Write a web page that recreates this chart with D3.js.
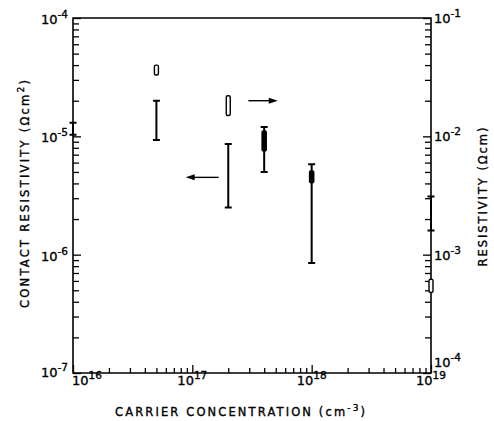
<!DOCTYPE html>
<html>
<head>
<meta charset="utf-8">
<script src="https://cdn.jsdelivr.net/npm/d3@7"></script>
<style>
  body { margin: 0; background: #fff; }
  svg { display: block; font-family: "DejaVu Sans", sans-serif; }
  text { fill: #000; stroke: #000; stroke-width: 0.35px; }
</style>
</head>
<body>
<svg id="chart"></svg>
<script>
// contact resistivity (left axis), error bars
const contactConc = [1e16, 5e16, 2e17, 4e17, 1e18, 1e19];
const contactLow = [1.03e-5, 9.3e-6, 2.5e-6, 5.0e-6, 8.5e-7, 1.6e-6];
const contactHigh = [1.3e-5, 2.0e-5, 8.6e-6, 1.2e-5, 5.8e-6, 3.1e-6];

// filled core of some bars
const coreConc = [4e17, 1e18];
const coreLow = [7.4e-6, 4.0e-6];
const coreHigh = [1.13e-5, 5.2e-6];

// resistivity (right axis), open boxes
const resConc = [5e16, 2e17, 1e19];
const resLow = [3.3e-2, 1.5e-2, 4.8e-4];
const resHigh = [4.0e-2, 2.2e-2, 6.2e-4];

const xTicks = [1e16, 1e17, 1e18, 1e19];
const xTickExp = ["16", "17", "18", "19"];
const yLeftTicks = [1e-4, 1e-5, 1e-6, 1e-7];
const yLeftExp = ["-4", "-5", "-6", "-7"];
const yRightTicks = [1e-1, 1e-2, 1e-3, 1e-4];
const yRightExp = ["-1", "-2", "-3", "-4"];

const width = 494, height = 421;
const margin = { top: 18, right: 63, bottom: 48, left: 73 };

const svg = d3.select("#chart").attr("width", width).attr("height", height);

const x = d3.scaleLog().domain([1e16, 1e19]).range([margin.left, width - margin.right]);
const yL = d3.scaleLog().domain([1e-7, 1e-4]).range([height - margin.bottom, margin.top]);
const yR = d3.scaleLog().domain([1e-4, 1e-1]).range([height - margin.bottom, margin.top]);

// minor ticks: 2..9 of every decade
function minors(lo, hi) {
  const out = [];
  for (let e = lo; e < hi; e++) for (let m = 2; m <= 9; m++) out.push(m * Math.pow(10, e));
  return out;
}

const x0 = margin.left, x1 = width - margin.right;
const y0 = height - margin.bottom, y1 = margin.top;

// frame
svg.append("path")
  .attr("d", `M${x0},${y1}H${x1}V${y0}H${x0}Z`)
  .attr("fill", "none").attr("stroke", "#000").attr("stroke-width", 1.6);

function tickAxis(axis, transform) {
  svg.append("g").attr("transform", transform)
    .call(axis)
    .call(g => g.select(".domain").remove())
    .call(g => g.selectAll("line").attr("stroke", "#000").attr("stroke-width", 1.3));
}

// bottom ticks (inside)
tickAxis(d3.axisTop(x).tickValues(minors(16, 19)).tickSize(5).tickFormat(""), `translate(0,${y0})`);
tickAxis(d3.axisTop(x).tickValues(xTicks).tickSize(8).tickFormat(""), `translate(0,${y0})`);
// left ticks (inside)
tickAxis(d3.axisRight(yL).tickValues(minors(-7, -4)).tickSize(6).tickFormat(""), `translate(${x0},0)`);
tickAxis(d3.axisRight(yL).tickValues(yLeftTicks).tickSize(8).tickFormat(""), `translate(${x0},0)`);
// right ticks (inside)
tickAxis(d3.axisLeft(yR).tickValues(minors(-4, -1)).tickSize(6).tickFormat(""), `translate(${x1},0)`);
tickAxis(d3.axisLeft(yR).tickValues(yRightTicks).tickSize(8).tickFormat(""), `translate(${x1},0)`);

// power-of-ten labels
function powLabel(g, exp) {
  g.append("tspan").text("10");
  g.append("tspan").attr("dy", -6).attr("font-size", 10.5).text(exp);
}

svg.append("g").selectAll("text")
  .data(xTicks)
  .join("text")
  .attr("x", (d, i) => i === 0 ? x(d) - 1 : x(d))
  .attr("y", y0 + 12)
  .attr("text-anchor", (d, i) => i === 0 ? "start" : "middle")
  .attr("font-size", 13)
  .each(function (d, i) { powLabel(d3.select(this), xTickExp[i]); });

svg.append("g").selectAll("text")
  .data(yLeftTicks)
  .join("text")
  .attr("x", x0 - 5)
  .attr("y", (d, i) => yL(d) + (i === 3 ? 4 : 6))
  .attr("text-anchor", "end")
  .attr("font-size", 13)
  .each(function (d, i) { powLabel(d3.select(this), yLeftExp[i]); });

svg.append("g").selectAll("text")
  .data(yRightTicks)
  .join("text")
  .attr("x", x1 + 3)
  .attr("y", (d, i) => yR(d) + (i === 3 ? -6 : 5))
  .attr("text-anchor", "start")
  .attr("font-size", 13)
  .each(function (d, i) { powLabel(d3.select(this), yRightExp[i]); });

// axis titles
const xt = svg.append("text")
  .attr("x", 240).attr("y", 416)
  .attr("text-anchor", "middle").attr("font-size", 11.5)
  .attr("textLength", 250).attr("lengthAdjust", "spacing");
xt.append("tspan").text("CARRIER CONCENTRATION (cm");
xt.append("tspan").attr("dy", -5).attr("font-size", 9).text("-3");
xt.append("tspan").attr("dy", 5).text(")");

const lt = svg.append("text")
  .attr("transform", "translate(29,194) rotate(-90)")
  .attr("text-anchor", "middle").attr("font-size", 11.5)
  .attr("textLength", 228).attr("lengthAdjust", "spacing");
lt.append("tspan").text("CONTACT RESISTIVITY (Ωcm");
lt.append("tspan").attr("dy", -5).attr("font-size", 9).text("2");
lt.append("tspan").attr("dy", 5).text(")");

svg.append("text")
  .attr("transform", "translate(487,197) rotate(-90)")
  .attr("text-anchor", "middle").attr("font-size", 11.5)
  .attr("textLength", 139).attr("lengthAdjust", "spacing")
  .text("RESISTIVITY (Ωcm)");

// contact resistivity error bars
const bars = svg.append("g").attr("stroke", "#000").attr("fill", "none");
contactConc.forEach((c, i) => {
  const cx = x(c), top = yL(contactHigh[i]), bot = yL(contactLow[i]);
  bars.append("path")
    .attr("d", `M${cx},${top}V${bot}M${cx - 3.5},${top}H${cx + 3.5}M${cx - 3.5},${bot}H${cx + 3.5}`)
    .attr("stroke-width", 2);
});

// filled cores
svg.append("g").selectAll("rect")
  .data(coreConc)
  .join("rect")
  .attr("x", d => x(d) - 2.8)
  .attr("width", 5.6)
  .attr("y", (d, i) => yL(coreHigh[i]))
  .attr("height", (d, i) => yL(coreLow[i]) - yL(coreHigh[i]))
  .attr("rx", 2.5)
  .attr("fill", "#000");

// resistivity open boxes
svg.append("g").selectAll("rect")
  .data(resConc)
  .join("rect")
  .attr("x", d => x(d) - 2)
  .attr("width", 4)
  .attr("y", (d, i) => yR(resHigh[i]))
  .attr("height", (d, i) => yR(resLow[i]) - yR(resHigh[i]))
  .attr("rx", 1.5)
  .attr("fill", "#fff")
  .attr("stroke", "#000")
  .attr("stroke-width", 1.4);

// arrows pointing to the axis each symbol belongs to
function arrow(xa, xb, yy) {
  const dir = Math.sign(xb - xa);
  svg.append("line")
    .attr("x1", xa).attr("x2", xb - dir * 6).attr("y1", yy).attr("y2", yy)
    .attr("stroke", "#000").attr("stroke-width", 1.4);
  svg.append("path")
    .attr("d", `M${xb},${yy}L${xb - dir * 9},${yy - 3}L${xb - dir * 9},${yy + 3}Z`)
    .attr("fill", "#000");
}
arrow(x(2.95e17), x(5.2e17), yR(2.0e-2));
arrow(x(1.66e17), x(8.8e16), yL(4.5e-6));
</script>
</body>
</html>
